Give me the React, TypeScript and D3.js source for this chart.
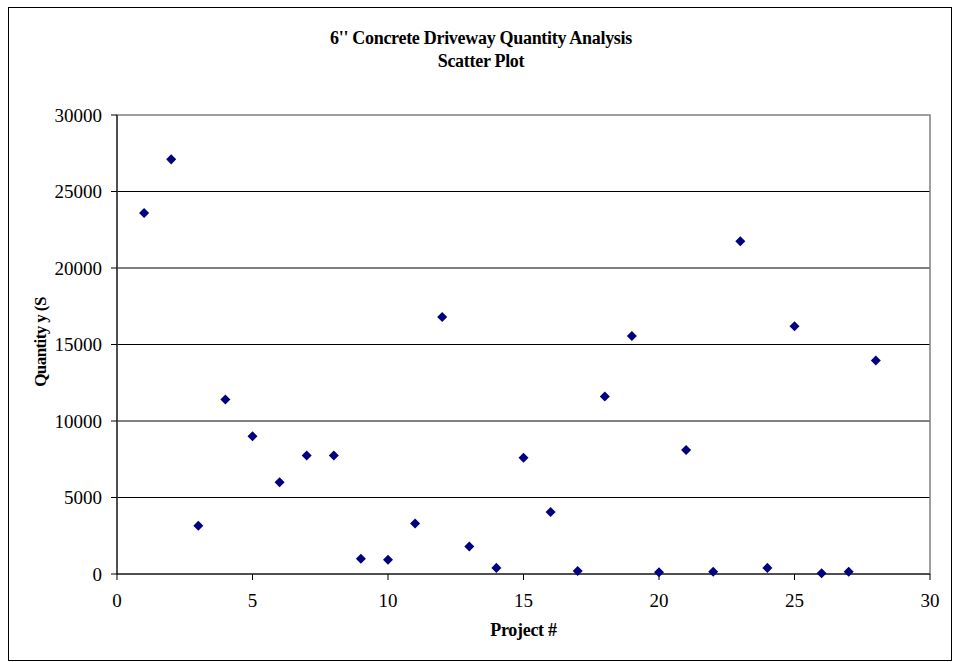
import * as d3 from "d3";
import { useMemo } from "react";

// project numbers and quantities
const projects = [
  1, 2, 3, 4, 5, 6, 7, 8, 9, 10, 11, 12, 13, 14, 15, 16, 17, 18, 19, 20, 21,
  22, 23, 24, 25, 26, 27, 28,
];
const quantities = [
  23600, 27100, 3150, 11400, 9000, 6000, 7750, 7750, 1000, 930, 3300, 16800,
  1800, 400, 7600, 4050, 200, 11600, 15550, 120, 8100, 150, 21750, 400, 16200,
  50, 150, 13950,
];
const xTicks = [0, 5, 10, 15, 20, 25, 30];
const yTicks = [0, 5000, 10000, 15000, 20000, 25000, 30000];
const titleLines = ["6'' Concrete Driveway Quantity Analysis", "Scatter Plot"];
const xLabel = "Project #";
const yLabel = "Quantity y (S";

const W = 956;
const H = 662;
const FONT = "'Liberation Serif', 'Times New Roman', serif";

export default function App() {
  const plot = { left: 117, right: 930, top: 115, bottom: 574 };

  // x axis: project number
  const xScale = useMemo(
    () => d3.scaleLinear().domain([0, 30]).range([plot.left, plot.right]),
    []
  );
  // y axis: quantity
  const yScale = useMemo(
    () => d3.scaleLinear().domain([0, 30000]).range([plot.bottom, plot.top]),
    []
  );

  const diamond = d3.symbol().type(d3.symbolDiamond2).size(64)();

  const points = projects.map((p, i) => (
    <path
      key={i}
      d={diamond || ""}
      transform={`translate(${xScale(p)},${yScale(quantities[i])})`}
      fill="#000080"
    />
  ));

  const midX = (plot.left + plot.right) / 2;
  const midY = (plot.top + plot.bottom) / 2;

  return (
    <svg
      width={W}
      height={H}
      style={{ position: "absolute", left: 0, top: 0, background: "#fff" }}
      fontFamily={FONT}
    >
      {/* outer chart border */}
      <rect x={8.5} y={7.5} width={943} height={653} fill="#fff" stroke="#000" strokeWidth={1} />

      {/* title */}
      {titleLines.map((t, i) => (
        <text
          key={i}
          x={481}
          y={43.5 + i * 23}
          textAnchor="middle"
          fontSize={18}
          fontWeight="bold"
          letterSpacing={-0.3}
        >
          {t}
        </text>
      ))}

      {/* gridlines */}
      {yTicks.slice(1, -1).map((t) => (
        <line
          key={t}
          x1={plot.left}
          x2={plot.right}
          y1={yScale(t)}
          y2={yScale(t)}
          stroke="#000"
          strokeWidth={1}
        />
      ))}

      {/* plot area border */}
      <rect
        x={plot.left}
        y={plot.top}
        width={plot.right - plot.left}
        height={plot.bottom - plot.top}
        fill="none"
        stroke="#808080"
        strokeWidth={1.5}
      />

      {/* y axis */}
      <line x1={plot.left} x2={plot.left} y1={plot.top} y2={plot.bottom} stroke="#000" />
      {yTicks.map((t) => (
        <g key={t}>
          <line x1={plot.left - 6} x2={plot.left} y1={yScale(t)} y2={yScale(t)} stroke="#000" />
          <text x={102} y={yScale(t)} dy="0.35em" textAnchor="end" fontSize={19}>
            {t}
          </text>
        </g>
      ))}

      {/* x axis */}
      <line x1={plot.left} x2={plot.right} y1={plot.bottom} y2={plot.bottom} stroke="#000" />
      {xTicks.map((t) => (
        <g key={t}>
          <line x1={xScale(t)} x2={xScale(t)} y1={plot.bottom} y2={plot.bottom + 6} stroke="#000" />
          <text x={xScale(t)} y={607} textAnchor="middle" fontSize={19}>
            {t}
          </text>
        </g>
      ))}

      {/* axis titles */}
      <text x={midX} y={636} textAnchor="middle" fontSize={18} fontWeight="bold" letterSpacing={-0.3}>
        {xLabel}
      </text>
      <text
        transform={`translate(46,${342}) rotate(-90)`}
        textAnchor="middle"
        fontSize={17}
        fontWeight="bold"
        letterSpacing={-0.6}
      >
        {yLabel}
      </text>

      <g>{points}</g>
    </svg>
  );
}
